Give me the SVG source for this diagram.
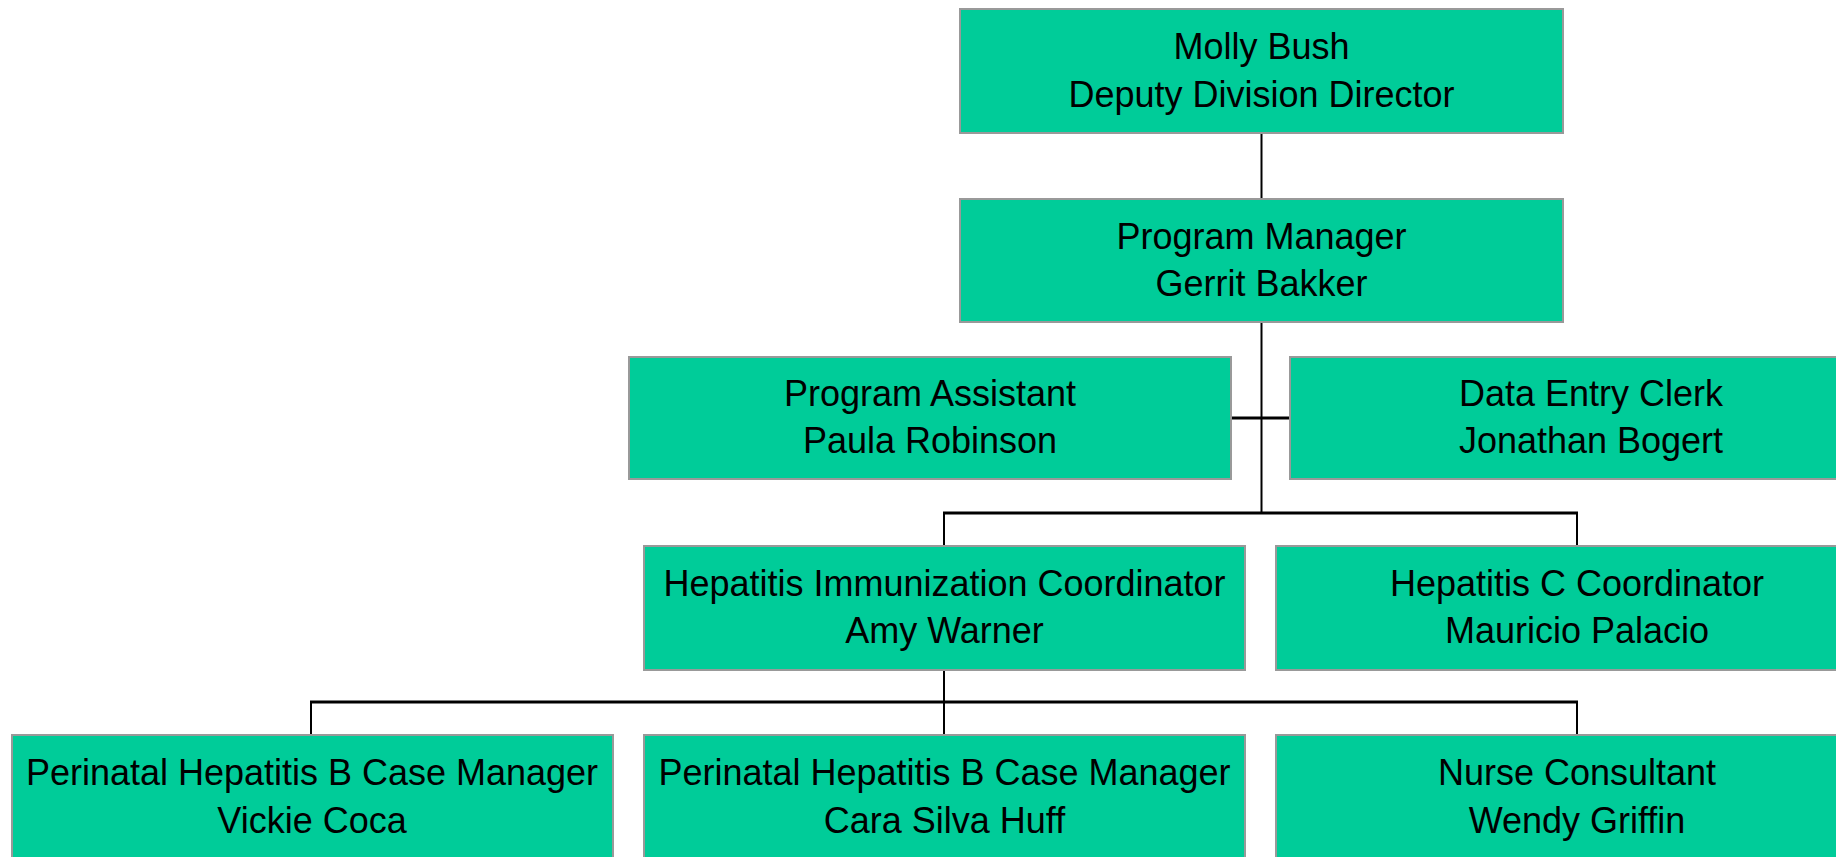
<svg xmlns="http://www.w3.org/2000/svg" width="1836" height="857" viewBox="0 0 1836 857">
<style>
.box{fill:#00CC99;stroke:#999999;stroke-width:2}
.t{font-family:"Liberation Sans",Arial,sans-serif;font-size:37.5px;fill:#000000;text-anchor:middle}
.v{stroke:#000000;stroke-width:2;fill:none}
.h{stroke:#000000;stroke-width:3;fill:none}
</style>
<rect width="1836" height="857" fill="#FFFFFF"/>
<g id="connectors">
<line class="v" x1="1261.5" y1="133" x2="1261.5" y2="199"/>
<line class="v" x1="1261.5" y1="322" x2="1261.5" y2="513"/>
<line class="h" x1="1231" y1="418" x2="1290" y2="418"/>
<line class="h" x1="943" y1="513" x2="1578" y2="513"/>
<line class="v" x1="944" y1="513" x2="944" y2="546"/>
<line class="v" x1="1577" y1="513" x2="1577" y2="546"/>
<line class="v" x1="944" y1="670" x2="944" y2="735"/>
<line class="h" x1="310" y1="702" x2="1578" y2="702"/>
<line class="v" x1="311" y1="702" x2="311" y2="735"/>
<line class="v" x1="1577" y1="702" x2="1577" y2="735"/>
</g>
<g id="molly-bush">
<rect class="box" x="960" y="9" width="603" height="124"/>
<text class="t" transform="translate(1261.5 0) scale(0.96 1)" y="59.5">Molly Bush</text>
<text class="t" transform="translate(1261.5 0) scale(0.96 1)" y="107">Deputy Division Director</text>
</g>
<g id="program-manager">
<rect class="box" x="960" y="199" width="603" height="123"/>
<text class="t" transform="translate(1261.5 0) scale(0.96 1)" y="249">Program Manager</text>
<text class="t" transform="translate(1261.5 0) scale(0.96 1)" y="296">Gerrit Bakker</text>
</g>
<g id="program-assistant">
<rect class="box" x="629" y="357" width="602" height="122"/>
<text class="t" transform="translate(930 0) scale(0.96 1)" y="406">Program Assistant</text>
<text class="t" transform="translate(930 0) scale(0.96 1)" y="453">Paula Robinson</text>
</g>
<g id="data-entry-clerk">
<rect class="box" x="1290" y="357" width="602" height="122"/>
<text class="t" transform="translate(1591 0) scale(0.96 1)" y="406">Data Entry Clerk</text>
<text class="t" transform="translate(1591 0) scale(0.96 1)" y="453">Jonathan Bogert</text>
</g>
<g id="hepatitis-immunization">
<rect class="box" x="644" y="546" width="601" height="124"/>
<text class="t" transform="translate(944.5 0) scale(0.96 1)" y="596">Hepatitis Immunization Coordinator</text>
<text class="t" transform="translate(944.5 0) scale(0.96 1)" y="643">Amy Warner</text>
</g>
<g id="hepatitis-c">
<rect class="box" x="1276" y="546" width="601" height="124"/>
<text class="t" transform="translate(1577 0) scale(0.96 1)" y="596">Hepatitis C Coordinator</text>
<text class="t" transform="translate(1577 0) scale(0.96 1)" y="643">Mauricio Palacio</text>
</g>
<g id="vickie-coca">
<rect class="box" x="12" y="735" width="601" height="124"/>
<text class="t" transform="translate(312 0) scale(0.96 1)" y="785">Perinatal Hepatitis B Case Manager</text>
<text class="t" transform="translate(312 0) scale(0.96 1)" y="833">Vickie Coca</text>
</g>
<g id="cara-silva-huff">
<rect class="box" x="644" y="735" width="601" height="124"/>
<text class="t" transform="translate(944.5 0) scale(0.96 1)" y="785">Perinatal Hepatitis B Case Manager</text>
<text class="t" transform="translate(944.5 0) scale(0.96 1)" y="833">Cara Silva Huff</text>
</g>
<g id="wendy-griffin">
<rect class="box" x="1276" y="735" width="601" height="124"/>
<text class="t" transform="translate(1577 0) scale(0.96 1)" y="785">Nurse Consultant</text>
<text class="t" transform="translate(1577 0) scale(0.96 1)" y="833">Wendy Griffin</text>
</g>
</svg>
